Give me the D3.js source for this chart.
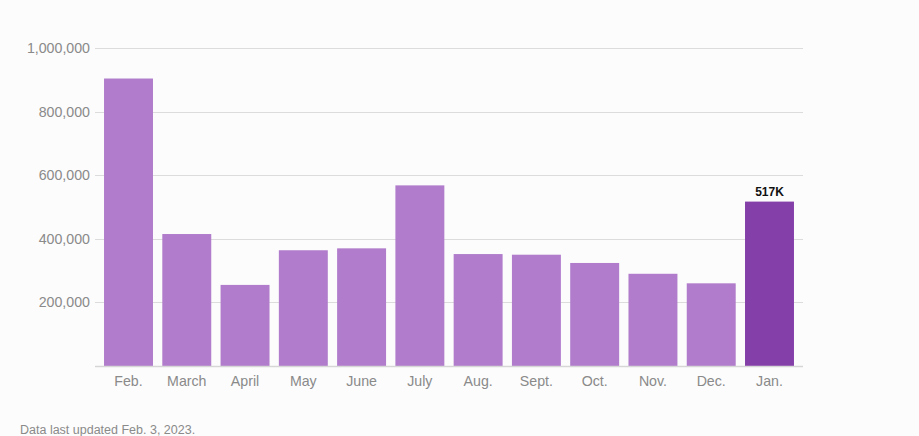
<!DOCTYPE html>
<html><head><meta charset="utf-8">
<script src="https://cdn.jsdelivr.net/npm/d3@7"></script>
<style>
html,body{margin:0;padding:0;background:#fcfcfc;}
svg{display:block;}
</style></head>
<body>
<svg id="chart" width="919" height="436"></svg>
<script>
const months = ["Feb.","March","April","May","June","July","Aug.","Sept.","Oct.","Nov.","Dec.","Jan."];
const jobs = [904000,415000,255000,364000,370000,568000,352000,350000,324000,290000,260000,517000];
const yTicks = [200000,400000,600000,800000,1000000];
const highlightLabel = "517K";
const footnote = "Data last updated Feb. 3, 2023.";

const svg = d3.select("#chart");
const x = d3.scaleBand().domain(months).range([95,803]).paddingInner(0.16).paddingOuter(0.155);
const y = d3.scaleLinear().domain([0,1000000]).range([366,48]);
const fmt = d3.format(",");

// grid
svg.append("g").selectAll("line").data(yTicks).join("line")
  .attr("x1",95).attr("x2",803)
  .attr("y1",d=>Math.round(y(d))+0.5).attr("y2",d=>Math.round(y(d))+0.5)
  .attr("stroke","#dcdcdc").attr("stroke-width",1);
svg.append("g").selectAll("text").data(yTicks).join("text")
  .attr("x",90).attr("y",d=>y(d)).attr("dy","0.35em")
  .attr("text-anchor","end")
  .attr("font-family","Liberation Sans, Arial, sans-serif").attr("font-size",14.2)
  .attr("fill","#8a8a8a").text(d=>fmt(d));

// bars
svg.append("g").selectAll("rect").data(jobs).join("rect")
  .attr("x",(d,i)=>x(months[i])).attr("width",x.bandwidth())
  .attr("y",d=>y(d)).attr("height",d=>y(0)-y(d))
  .attr("fill",(d,i)=>i===months.length-1?"#843fa8":"#b07ccb");

// baseline
svg.append("line").attr("x1",95).attr("x2",803)
  .attr("y1",y(0)+0.5).attr("y2",y(0)+0.5)
  .attr("stroke","#d6d6d6").attr("stroke-width",1.5);

// x labels
svg.append("g").selectAll("text").data(months).join("text")
  .attr("x",d=>x(d)+x.bandwidth()/2).attr("y",386)
  .attr("text-anchor","middle")
  .attr("font-family","Liberation Sans, Arial, sans-serif").attr("font-size",14.2)
  .attr("fill","#8a8a8a").text(d=>d);

// highlight label
const last = months.length-1;
svg.append("text").attr("x",x(months[last])+x.bandwidth()/2).attr("y",y(jobs[last])-6)
  .attr("text-anchor","middle")
  .attr("font-family","Liberation Sans, Arial, sans-serif").attr("font-size",12).attr("font-weight","bold")
  .attr("fill","#111").text(highlightLabel);

svg.append("text").attr("x",20).attr("y",433.5)
  .attr("font-family","Liberation Sans, Arial, sans-serif").attr("font-size",12.5)
  .attr("fill","#8a8a8a").text(footnote);
</script>
</body></html>
